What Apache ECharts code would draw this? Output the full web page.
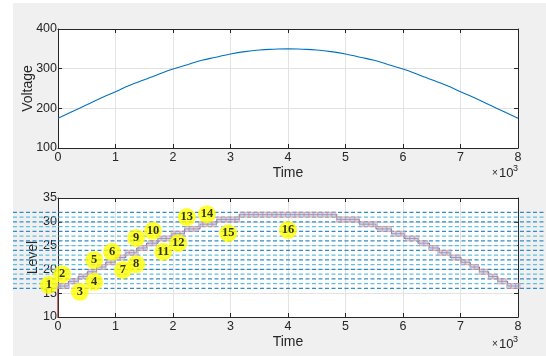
<!DOCTYPE html>
<html>
<head>
<meta charset="utf-8">
<script src="https://cdn.jsdelivr.net/npm/echarts@6/dist/echarts.min.js"></script>
<style>
  html, body { margin: 0; padding: 0; background: #ffffff; }
  #wrap { position: relative; width: 546px; height: 356px; overflow: hidden; }
  #bg { position: absolute; left: 13px; top: 3px; right: 0; bottom: 0; background: #f0f0f0; }
  #chart { position: absolute; left: 0; top: 0; width: 546px; height: 356px; }
</style>
</head>
<body>
<div id="wrap"><div id="bg"></div><div id="chart"></div></div>
<script>
// Time axis (ms) shown in units of 10^3
const timeTicks = [0, 1000, 2000, 3000, 4000, 5000, 6000, 7000, 8000];

// Supply voltage over time
const voltageTimes = [0, 250, 500, 750, 1000, 1250, 1500, 1750, 2000, 2250, 2500, 2750, 3000, 3250, 3500, 3750,
  4000, 4250, 4500, 4750, 5000, 5250, 5500, 5750, 6000, 6250, 6500, 6750, 7000, 7250, 7500, 7750, 8000];
const voltageValues = [175, 192, 209, 226, 242, 258, 272, 286, 299, 310, 321, 329, 337, 343, 347, 349,
  350, 349, 347, 343, 337, 329, 321, 310, 299, 286, 272, 258, 242, 226, 209, 192, 175];

// Quantised level: time at which each step begins, and its level
const stepTimes = [0, 180, 350, 510, 670, 830, 990, 1180, 1370, 1540, 1740, 1980, 2200, 2470, 2760, 3150,
  4850, 5240, 5530, 5800, 6020, 6260, 6460, 6630, 6820, 7010, 7170, 7330, 7490, 7650, 7820, 8000];
const stepLevels = [16.5, 17.5, 18.5, 19.5, 20.5, 21.5, 22.5, 23.5, 24.5, 25.5, 26.5, 27.5, 28.5, 29.5, 30.5, 31.5,
  30.5, 29.5, 28.5, 27.5, 26.5, 25.5, 24.5, 23.5, 22.5, 21.5, 20.5, 19.5, 18.5, 17.5, 16.5, 16.5];

// Level before the first step (rises at t = 0)
const startLevel = 0;

// Sampled level, one sample every 80 ms from 0 to 8000
const samplePeriod = 80;
const sampleLevels = [
  16.5, 16.5, 16.5, 17.5, 17.5, 18.5, 18.5, 19.5, 19.5, 20.5,
  20.5, 21.5, 21.5, 22.5, 22.5, 23.5, 23.5, 23.5, 24.5, 24.5,
  25.5, 25.5, 26.5, 26.5, 26.5, 27.5, 27.5, 27.5, 28.5, 28.5,
  28.5, 29.5, 29.5, 29.5, 29.5, 30.5, 30.5, 30.5, 30.5, 30.5,
  31.5, 31.5, 31.5, 31.5, 31.5, 31.5, 31.5, 31.5, 31.5, 31.5,
  31.5, 31.5, 31.5, 31.5, 31.5, 31.5, 31.5, 31.5, 31.5, 31.5,
  31.5, 30.5, 30.5, 30.5, 30.5, 30.5, 29.5, 29.5, 29.5, 29.5,
  28.5, 28.5, 28.5, 27.5, 27.5, 27.5, 26.5, 26.5, 26.5, 25.5,
  25.5, 24.5, 24.5, 23.5, 23.5, 23.5, 22.5, 22.5, 21.5, 21.5,
  20.5, 20.5, 19.5, 19.5, 18.5, 18.5, 17.5, 17.5, 16.5, 16.5,
  16.5];

// Quantiser threshold levels (dashed guides)
const thresholdLevels = [16, 17, 18, 19, 20, 21, 22, 23, 24, 25, 26, 27, 28, 29, 30, 31, 32];

// Numbered step tags
const tagTimes = [-160, 70, 380, 630, 630, 940, 1130, 1360, 1360, 1650, 1830, 2090, 2240, 2590, 2960, 4000];
const tagLevels = [16.7, 19.0, 15.3, 17.4, 22.0, 23.7, 19.9, 21.1, 26.6, 28.1, 23.7, 25.5, 31.0, 31.6, 27.6, 28.3];

const voltageTicks = [100, 200, 300, 400];
const levelTicks = [10, 15, 20, 25, 30, 35];

const INK = '#262626';
const FONT = 'Liberation Sans, Arial, sans-serif';
const GRID_W = 460, GRID_H = 119, GRID_L = 58;
const TOP_Y = 29, BOT_Y = 198;

function xAxisPair(gridIndex) {
  return [
    {
      type: 'value', gridIndex, min: timeTicks[0], max: timeTicks[timeTicks.length - 1], interval: 1000,
      name: 'Time', nameLocation: 'middle', nameGap: 18, nameMoveOverlap: false,
      nameTextStyle: { fontFamily: FONT, fontSize: 14, color: INK },
      axisLine: { show: true, onZero: false, lineStyle: { color: INK, width: 1 } },
      axisTick: { show: true, inside: true, length: 4, lineStyle: { color: INK } },
      axisLabel: { margin: 3, fontFamily: FONT, fontSize: 12.5, color: INK, formatter: v => String(v / 1000) },
      splitLine: { show: true, lineStyle: { color: '#e3e3e3', width: 1 } }
    },
    {
      type: 'value', gridIndex, position: 'top', min: timeTicks[0], max: timeTicks[timeTicks.length - 1], interval: 1000,
      axisLine: { show: true, onZero: false, lineStyle: { color: INK, width: 1 } },
      axisTick: { show: true, inside: true, length: 4, lineStyle: { color: INK } },
      axisLabel: { show: false }, splitLine: { show: false }
    }
  ];
}

function yAxisPair(gridIndex, ticks, name, gap) {
  const min = ticks[0], max = ticks[ticks.length - 1], interval = ticks[1] - ticks[0];
  return [
    {
      type: 'value', gridIndex, min, max, interval,
      name, nameLocation: 'middle', nameGap: gap, nameRotate: 90, nameMoveOverlap: false,
      nameTextStyle: { fontFamily: FONT, fontSize: 14, color: INK },
      axisLine: { show: true, onZero: false, lineStyle: { color: INK, width: 1 } },
      axisTick: { show: true, inside: true, length: 4, lineStyle: { color: INK } },
      axisLabel: { margin: 1, fontFamily: FONT, fontSize: 12.5, color: INK },
      splitLine: { show: true, lineStyle: { color: '#e3e3e3', width: 1 } }
    },
    {
      type: 'value', gridIndex, position: 'right', min, max, interval,
      axisLine: { show: true, onZero: false, lineStyle: { color: INK, width: 1 } },
      axisTick: { show: true, inside: true, length: 4, lineStyle: { color: INK } },
      axisLabel: { show: false }, splitLine: { show: false }
    }
  ];
}

const series = [];

// top panel: voltage curve
series.push({
  type: 'line', xAxisIndex: 0, yAxisIndex: 0, smooth: true, symbol: 'none',
  data: voltageTimes.map((t, i) => [t, voltageValues[i]]),
  lineStyle: { color: '#0072bd', width: 1.1 }, z: 3
});

// dashed threshold guides across the full figure width
thresholdLevels.forEach((lv, i) => {
  series.push({
    type: 'line', xAxisIndex: 4, yAxisIndex: 4, symbol: 'none', silent: true,
    data: [[0, lv], [1, lv]],
    lineStyle: { color: i % 2 === 0 ? '#2f8ccc' : '#62bfe0', width: 1.2, type: [4, 2.5] }, z: 4
  });
});

// initial rise of the level at t = 0
series.push({
  type: 'line', xAxisIndex: 2, yAxisIndex: 2, symbol: 'none',
  data: [[stepTimes[0], startLevel], [stepTimes[0], stepLevels[0]]],
  lineStyle: { color: '#7a2a2a', width: 1.2 }, z: 3
});

// staircase of quantised level
series.push({
  type: 'line', xAxisIndex: 2, yAxisIndex: 2, step: 'end', symbol: 'none',
  data: stepTimes.map((t, i) => [t, stepLevels[i]]),
  lineStyle: { color: '#6a6f98', width: 1 }, z: 3
});

// sample markers along the staircase
series.push({
  type: 'scatter', xAxisIndex: 2, yAxisIndex: 2, symbol: 'rect', symbolSize: [4, 5],
  data: sampleLevels.map((lv, i) => [i * samplePeriod, lv]),
  itemStyle: { color: 'rgba(170,200,235,0.7)', borderColor: '#d98e94', borderWidth: 0.8 }, z: 5
});

// numbered tags
series.push({
  type: 'scatter', xAxisIndex: 2, yAxisIndex: 2, clip: false, symbol: 'circle', symbolSize: 18,
  data: tagTimes.map((t, i) => [t, tagLevels[i]]),
  itemStyle: { color: '#ffff00' },
  label: {
    show: true, position: 'inside', formatter: p => String(p.dataIndex + 1),
    fontFamily: 'Liberation Serif, Times New Roman, serif', fontWeight: 'bold', fontSize: 12.5, color: '#000'
  },
  z: 10
});

const option = {
  animation: false,
  backgroundColor: 'transparent',
  grid: [
    { left: GRID_L, top: TOP_Y, width: GRID_W, height: GRID_H, show: true, backgroundColor: '#ffffff', borderWidth: 0 },
    { left: GRID_L, top: BOT_Y, width: GRID_W, height: GRID_H, show: true, backgroundColor: '#ffffff', borderWidth: 0 },
    { left: 13, right: 0, top: BOT_Y, height: GRID_H, show: false }
  ],
  xAxis: [
    ...xAxisPair(0),
    ...xAxisPair(1),
    { type: 'value', gridIndex: 2, min: 0, max: 1, show: false }
  ],
  yAxis: [
    ...yAxisPair(0, voltageTicks, 'Voltage', 23),
    ...yAxisPair(1, levelTicks, 'Level', 18),
    { type: 'value', gridIndex: 2, min: levelTicks[0], max: levelTicks[levelTicks.length - 1], show: false }
  ],
  graphic: [
    { type: 'text', left: 492, top: 168, style: { text: '×', font: '10px ' + FONT, fill: INK } },
    { type: 'text', left: 499, top: 167, style: { text: '10', font: '13px ' + FONT, fill: INK } },
    { type: 'text', left: 513, top: 164, style: { text: '3', font: '9px ' + FONT, fill: INK } },
    { type: 'text', left: 492, top: 339, style: { text: '×', font: '10px ' + FONT, fill: INK } },
    { type: 'text', left: 499, top: 338, style: { text: '10', font: '13px ' + FONT, fill: INK } },
    { type: 'text', left: 513, top: 335, style: { text: '3', font: '9px ' + FONT, fill: INK } }
  ],
  series
};

const chart = echarts.init(document.getElementById('chart'), null, { renderer: 'canvas' });
chart.setOption(option);
</script>
</body>
</html>
